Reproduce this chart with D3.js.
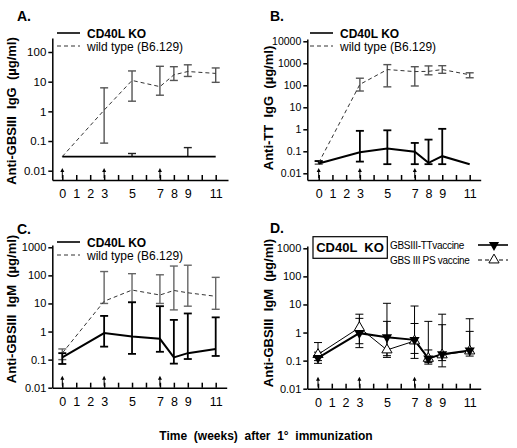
<!DOCTYPE html>
<html><head><meta charset="utf-8">
<script src="https://cdn.jsdelivr.net/npm/d3@7"></script>
<style>
body{margin:0;background:#fff}
svg{display:block;font-family:"Liberation Sans",Arial,Helvetica,sans-serif}
</style>
</head><body>
<svg id="c" width="517" height="448"></svg>
<script>
// ---------- data ----------
const weeks = [0, 3, 5, 7, 8, 9, 11];
const xTickWeeks = [0,1,2,3,4,5,6,7,8,9,10,11];
const xLabelWeeks = [0,1,2,3,5,7,8,9,11];
const boostWeeks = [0, 3, 7];

// Panel A: anti-GBSIII IgG
const aYTicks = [0.01, 0.1, 1, 10, 100];
const aKO   = [0.03,0.03,0.03,0.03,0.03,0.03,0.03];
const aKOHi = [null, null, 0.038, null, null, 0.06, null];
const aKOLo = [null, null, null, null, null, null, null];
const aWT   = [0.03, 1.1, 11, 6.8, 17, 22, 19];
const aWTHi = [null, 6.2, 23, 33, 32, 37, 29];
const aWTLo = [null, 0.085, 2.2, 3.5, 11, 15, 9.5];

// Panel B: anti-TT IgG
const bYTicks = [0.01, 0.1, 1, 10, 100, 1000, 10000];
const bKO   = [0.028, 0.09, 0.135, 0.095, 0.03, 0.06, 0.026];
const bKOHi = [0.036, 0.85, 0.9, 0.24, 0.34, 1.05, null];
const bKOLo = [null, 0.034, 0.026, 0.026, 0.026, 0.026, null];
const bWT   = [0.03, 110, 520, 420, 430, 520, 300];
const bWTHi = [0.036, 210, 870, 700, 760, 780, 370];
const bWTLo = [0.026, 55, 85, 93, 300, 350, 220];

// Panel C: anti-GBSIII IgM
const cYTicks = [0.01, 0.1, 1, 10, 100, 1000];
const cKO   = [0.12, 0.88, 0.66, 0.55, 0.12, 0.17, 0.24];
const cKOHi = [0.17, 3.6, 11, 8, 2.6, 4.4, 3.2];
const cKOLo = [0.07, 0.29, 0.16, 0.19, 0.072, 0.105, 0.135];
const cWT   = [0.17, 12, 30, 20, 29, 24, 18];
const cWTHi = [0.24, 137, 115, 105, 215, 230, 85];
const cWTLo = [0.1, 10, 11, 10, 5.9, 8, 6.2];

// Panel D: anti-GBSIII IgM, CD40L KO, two vaccines
const dYTicks = [0.01, 0.1, 1, 10, 100, 1000];
const dTT   = [0.125, 0.95, 0.68, 0.55, 0.12, 0.17, 0.23];
const dTTHi = [0.2, 3.2, 11, 8.8, 2.5, 4.5, 3.1];
const dTTLo = [0.08, 0.29, 0.15, 0.12, 0.075, 0.1, 0.145];
const dPS   = [0.165, 1.5, 0.24, 0.5, 0.12, 0.16, 0.22];
const dPSHi = [0.44, 4.5, 2.5, 2.1, 0.24, 1.9, 1.1];
const dPSLo = [0.1, 0.4, 0.13, 0.18, 0.085, 0.06, 0.18];

const koLabel = "CD40L KO";
const wtLabel = "wild type (B6.129)";
const ttLabel = "GBSIII-TTvaccine";
const psLabel = "GBS III PS vaccine";
const xTitle = "Time  (weeks)  after  1°  immunization";

// ---------- drawing ----------
const svg = d3.select("#c");

function series(vals, hi, lo){
  return weeks.map((w,i)=>({w, v:vals[i], hi:hi[i], lo:lo[i]}));
}

function makePanel(cfg){
  const g = svg.append("g");
  const x = d3.scaleLinear().domain([0,11]).range([cfg.x0, cfg.x11]);
  x.domain([x.invert(cfg.ax), x.invert(cfg.xr)]).range([cfg.ax, cfg.xr]);
  const y = d3.scaleLog().domain([cfg.yTicks[0], cfg.yTicks[cfg.yTicks.length-1]]).range([cfg.ylo, cfg.yhi]);
  y.domain([y.invert(cfg.yb), y.invert(cfg.yt)]).range([cfg.yb, cfg.yt]);

  const xa = g.append("g").attr("transform",`translate(0,${cfg.yb})`)
    .call(d3.axisBottom(x).tickValues(xTickWeeks).tickSize(-5).tickSizeOuter(0).tickPadding(9)
      .tickFormat(d => xLabelWeeks.includes(d) ? d : ""));
  xa.selectAll("text").attr("font-size",12.5).attr("font-family","Liberation Sans, Arial, sans-serif").attr("fill","#000");
  xa.selectAll("line,path").attr("stroke","#000").attr("stroke-width",1.5);

  const ya = g.append("g").attr("transform",`translate(${cfg.ax},0)`)
    .call(d3.axisLeft(y).tickValues(cfg.yTicks).tickSize(4).tickSizeOuter(0).tickPadding(2)
      .tickFormat(d => String(d)));
  ya.selectAll("text").attr("font-size",cfg.yfs).attr("font-family","Liberation Sans, Arial, sans-serif").attr("fill","#000");
  ya.selectAll("line,path").attr("stroke","#000").attr("stroke-width",1.5);

  // booster arrows
  boostWeeks.forEach(w=>{
    const px = x(w);
    g.append("line").attr("x1",px).attr("x2",px).attr("y1",cfg.yb-2).attr("y2",cfg.yb-10)
      .attr("stroke","#000").attr("stroke-width",1);
    g.append("path").attr("d",`M${px-2},${cfg.yb-8}L${px},${cfg.yb-12}L${px+2},${cfg.yb-8}Z`).attr("fill","#000");
  });

  // panel letter
  g.append("text").attr("x",cfg.lx).attr("y",cfg.ly).text(cfg.letter)
    .attr("font-size",14).attr("font-weight","bold");

  // y title
  g.append("text").attr("transform",`translate(${cfg.tx},${cfg.ty}) rotate(-90)`)
    .attr("text-anchor","middle").style("white-space","pre")
    .attr("font-size",13).attr("font-weight","bold").text(cfg.ytitle);
  return {g,x,y};
}

function errorBars(P, data, color, width, cap){
  const gg = P.g.append("g").attr("stroke",color).attr("stroke-width",width).attr("fill","none");
  data.forEach(d=>{
    if(d.hi==null && d.lo==null) return;
    const px = P.x(d.w);
    const top = d.hi!=null ? d.hi : d.v;
    const bot = d.lo!=null ? d.lo : d.v;
    gg.append("line").attr("x1",px).attr("x2",px).attr("y1",P.y(top)).attr("y2",P.y(bot));
    if(d.hi!=null) gg.append("line").attr("x1",px-cap).attr("x2",px+cap).attr("y1",P.y(d.hi)).attr("y2",P.y(d.hi));
    if(d.lo!=null) gg.append("line").attr("x1",px-cap).attr("x2",px+cap).attr("y1",P.y(d.lo)).attr("y2",P.y(d.lo));
  });
}

function lineOf(P, data, color, width, dash){
  const ln = d3.line().x(d=>P.x(d.w)).y(d=>P.y(d.v));
  P.g.append("path").datum(data).attr("d",ln).attr("fill","none")
    .attr("stroke",color).attr("stroke-width",width).attr("stroke-dasharray",dash||null);
}

function koWtLegend(P, lx, ly){
  P.g.append("line").attr("x1",lx).attr("x2",lx+23).attr("y1",ly).attr("y2",ly).attr("stroke","#000").attr("stroke-width",1.6);
  P.g.append("text").attr("x",lx+30).attr("y",ly+4.5).attr("font-size",12).attr("font-weight","bold").text(koLabel);
  P.g.append("line").attr("x1",lx).attr("x2",lx+23).attr("y1",ly+13).attr("y2",ly+13).attr("stroke","#333").attr("stroke-width",1).attr("stroke-dasharray","4,3");
  P.g.append("text").attr("x",lx+30).attr("y",ly+17.5).attr("font-size",12).text(wtLabel);
}

// Panel A
const A = makePanel({letter:"A.", lx:17, ly:21, ax:52.3, x0:62.3, x11:215.7, xr:228, yb:180, yt:38, yfs:11.5,
  yTicks:aYTicks, ylo:170.7, yhi:52, tx:16, ty:111, ytitle:"Anti-GBSIII  IgG  (µg/ml)"});
const aWTs = series(aWT,aWTHi,aWTLo), aKOs = series(aKO,aKOHi,aKOLo);
errorBars(A, aWTs, "#555", 1.4, 4);
errorBars(A, aKOs, "#222", 1.4, 4);
lineOf(A, aWTs, "#333", 1, "4,3");
lineOf(A, aKOs, "#000", 1.8);
koWtLegend(A, 57, 33);

// Panel B
const B = makePanel({letter:"B.", lx:270, ly:21, ax:307.3, x0:318.7, x11:469.7, xr:480.7, yb:180, yt:39, yfs:10.5,
  yTicks:bYTicks, ylo:173.3, yhi:41.3, tx:273, ty:108, ytitle:"Anti-TT  IgG  (µg/ml)"});
const bWTs = series(bWT,bWTHi,bWTLo), bKOs = series(bKO,bKOHi,bKOLo);
errorBars(B, bWTs, "#555", 1.4, 4);
errorBars(B, bKOs, "#000", 1.8, 4);
lineOf(B, bWTs, "#333", 1, "4,3");
lineOf(B, bKOs, "#000", 2);
koWtLegend(B, 310, 33);

// Panel C
const C = makePanel({letter:"C.", lx:17, ly:234, ax:52.3, x0:62.3, x11:215.7, xr:226.7, yb:387.7, yt:245, yfs:11,
  yTicks:cYTicks, ylo:387.7, yhi:247.3, tx:16, ty:309, ytitle:"Anti-GBSIII  IgM  (µg/ml)"});
const cWTs = series(cWT,cWTHi,cWTLo), cKOs = series(cKO,cKOHi,cKOLo);
errorBars(C, cWTs, "#666", 1.4, 4);
errorBars(C, cKOs, "#000", 1.8, 4);
lineOf(C, cWTs, "#333", 1, "4,3");
lineOf(C, cKOs, "#000", 2);
koWtLegend(C, 57, 242);

// Panel D
const D = makePanel({letter:"D.", lx:270, ly:233, ax:307.3, x0:318, x11:469.7, xr:480.7, yb:388.7, yt:246, yfs:11,
  yTicks:dYTicks, ylo:388.7, yhi:248.3, tx:273, ty:313, ytitle:"Anti-GBSIII  IgM  (µg/ml)"});
const dTTs = series(dTT,dTTHi,dTTLo), dPSs = series(dPS,dPSHi,dPSLo);
errorBars(D, dPSs, "#000", 1, 4);
errorBars(D, dTTs, "#000", 1, 4);
lineOf(D, dPSs, "#000", 1);
lineOf(D, dTTs, "#000", 2);
const triUp = d3.symbol().type(d3.symbolTriangle).size(45);
D.g.selectAll(".ps").data(dPSs).join("path").attr("d",triUp)
  .attr("transform",d=>`translate(${D.x(d.w)},${D.y(d.v)})`).attr("fill","#fff").attr("stroke","#000").attr("stroke-width",1);
D.g.selectAll(".tt").data(dTTs).join("path").attr("d",triUp)
  .attr("transform",d=>`translate(${D.x(d.w)},${D.y(d.v)}) rotate(180)`).attr("fill","#000");
// D legend
D.g.append("rect").attr("x",313).attr("y",236.7).attr("width",74.3).attr("height",21.6).attr("fill","#fff").attr("stroke","#000").attr("stroke-width",1.2);
D.g.append("text").attr("x",350).attr("y",252).attr("text-anchor","middle").style("white-space","pre")
  .attr("font-size",13).attr("font-weight","bold").text("CD40L  KO");
D.g.append("text").attr("x",390).attr("y",248.5).attr("font-size",10).attr("letter-spacing",-0.3).text(ttLabel);
D.g.append("text").attr("x",390).attr("y",263.5).attr("font-size",10).attr("letter-spacing",-0.3).text(psLabel);
D.g.append("line").attr("x1",478).attr("x2",508).attr("y1",245).attr("y2",245).attr("stroke","#000").attr("stroke-width",1.6);
D.g.append("path").attr("d",triUp).attr("transform","translate(494,245) rotate(180)").attr("fill","#000");
D.g.append("line").attr("x1",478).attr("x2",508).attr("y1",260).attr("y2",260).attr("stroke","#000").attr("stroke-width",1).attr("stroke-dasharray","4,3");
D.g.append("path").attr("d",triUp).attr("transform","translate(494,260)").attr("fill","#fff").attr("stroke","#000");

// x title
svg.append("text").attr("x",266).attr("y",440).attr("text-anchor","middle").style("white-space","pre")
  .attr("font-size",12).attr("font-weight","bold").text(xTitle);
</script>
</body></html>
